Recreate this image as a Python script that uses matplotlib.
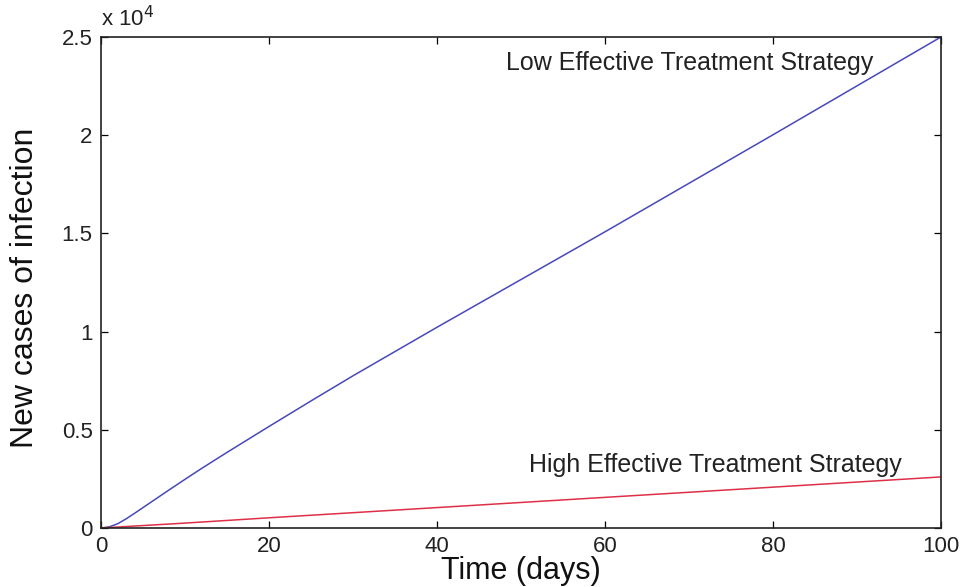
import matplotlib
matplotlib.use("Agg")
import matplotlib.pyplot as plt
import numpy as np

plt.rcParams['font.family'] = ['Liberation Sans', 'DejaVu Sans']

# Data
days_low = [0, 1, 2, 3, 4, 5, 6, 8, 10, 12, 15, 20, 25, 30, 40, 50, 60, 70, 80, 90, 100]
low_cases = [0, 60, 220, 470, 750, 1040, 1330, 1910, 2480, 3040, 3850, 5170, 6470, 7750,
             10220, 12650, 15080, 17550, 20020, 22510, 25000]
days_high = [0, 10, 20, 30, 40, 50, 60, 70, 80, 90, 100]
high_cases = [0, 250, 520, 780, 1040, 1300, 1560, 1820, 2080, 2340, 2600]

xticks = [0, 20, 40, 60, 80, 100]
yticks = [0, 5000, 10000, 15000, 20000, 25000]
ytick_labels = ['0', '0.5', '1', '1.5', '2', '2.5']

fig = plt.figure(figsize=(9.64, 5.87), dpi=100)
ax = fig.add_axes([0.1048, 0.1005, 0.9761 - 0.1048, 0.937 - 0.1005])

ax.plot(days_low, low_cases, color='#4848bb', lw=1.1)
ax.plot(days_high, high_cases, color='#dd3048', lw=1.1)

ax.set_xlim(0, 100)
ax.set_ylim(0, 25000)
ax.set_xticks(xticks)
ax.set_yticks(yticks)
ax.set_yticklabels(ytick_labels)
ax.tick_params(direction='in', top=True, right=True, length=5, width=0.9,
               labelsize=16, labelcolor='#222222', pad=6)
for s in ax.spines.values():
    s.set_linewidth(1.2)
    s.set_color('#222222')

ax.text(0, 1.012, r'x 10$^{4}$', transform=ax.transAxes, fontsize=16,
        ha='left', va='bottom', color='#222222')

ax.text(70.1, 23650, 'Low Effective Treatment Strategy', fontsize=18,
        ha='center', va='center', color='#222222')
ax.text(73.1, 3200, 'High Effective Treatment Strategy', fontsize=18,
        ha='center', va='center', color='#222222')

ax.set_xlabel('Time (days)', fontsize=22, color='#111111', va='center')
ax.xaxis.set_label_coords(0.5, -0.088)
ax.set_ylabel('New cases of infection', fontsize=23, color='#111111', va='center')
ax.yaxis.set_label_coords(-0.09, 0.49)

fig.savefig('out.png', dpi=100)
